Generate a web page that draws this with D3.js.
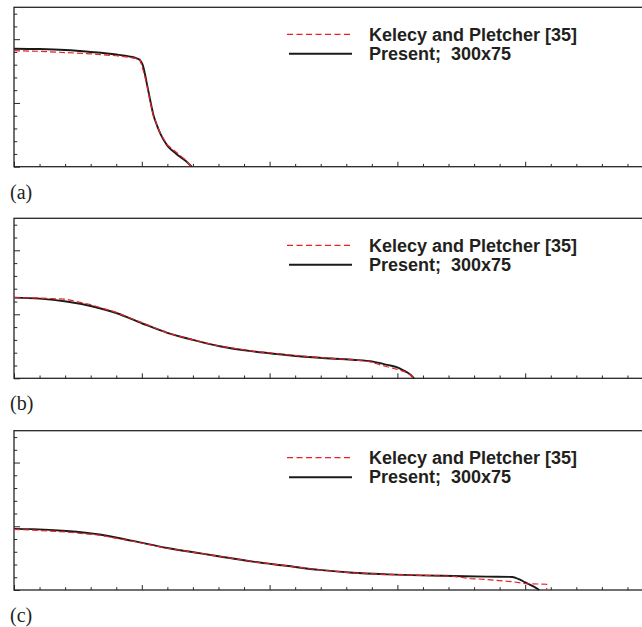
<!DOCTYPE html>
<html>
<head>
<meta charset="utf-8">
<script src="https://cdn.jsdelivr.net/npm/d3@7"></script>
<style>
  html, body { margin: 0; padding: 0; background: #fff; }
  svg { display: block; }
</style>
</head>
<body>
<svg id="chart" width="642" height="627"></svg>
<script>
// ---------------- data ----------------
const panelLabels = ["(a)", "(b)", "(c)"];
const legendLabels = ["Kelecy and Pletcher [35]", "Present;  300x75"];

// Panel (a)
const aRefX = [0, 0.2, 0.4, 0.6, 0.8, 0.96, 0.985, 1.0, 1.02, 1.04, 1.065, 1.09, 1.145, 1.2, 1.28, 1.35, 1.39];
const aRefY = [1.82, 1.81, 1.79, 1.77, 1.74, 1.70, 1.69, 1.58, 1.45, 1.28, 1.03, 0.80, 0.52, 0.34, 0.21, 0.09, 0];
const aPresX = [0, 0.2, 0.4, 0.6, 0.8, 0.9, 0.96, 0.99, 1.01, 1.025, 1.04, 1.065, 1.09, 1.12, 1.145, 1.2, 1.27, 1.35, 1.39];
const aPresY = [1.85, 1.845, 1.83, 1.80, 1.76, 1.73, 1.70, 1.66, 1.58, 1.45, 1.30, 1.05, 0.82, 0.64, 0.52, 0.33, 0.20, 0.08, 0];

// Panel (b)
const bRefX = [0, 0.2, 0.41, 0.6, 0.8, 1.0, 1.2, 1.4, 1.6, 1.87, 2.13, 2.39, 2.65, 2.78, 2.85, 2.92, 3.0, 3.06, 3.1, 3.125];
const bRefY = [1.26, 1.255, 1.235, 1.15, 1.03, 0.87, 0.71, 0.60, 0.505, 0.425, 0.37, 0.325, 0.29, 0.26, 0.22, 0.18, 0.14, 0.10, 0.06, 0];
const bPresX = [0, 0.2, 0.41, 0.6, 0.8, 1.0, 1.2, 1.4, 1.6, 1.87, 2.13, 2.39, 2.65, 2.81, 2.92, 3.0, 3.05, 3.1, 3.13];
const bPresY = [1.26, 1.245, 1.20, 1.13, 1.02, 0.86, 0.71, 0.60, 0.505, 0.42, 0.365, 0.32, 0.29, 0.26, 0.21, 0.17, 0.12, 0.06, 0];

// Panel (c)
const cRefX = [0, 0.15, 0.41, 0.67, 0.93, 1.2, 1.46, 1.6, 1.87, 2.13, 2.39, 2.65, 2.92, 3.18, 3.44, 3.57, 3.7, 3.9, 4.0, 4.168, 4.168];
const cRefY = [0.95, 0.94, 0.91, 0.86, 0.765, 0.655, 0.575, 0.53, 0.445, 0.38, 0.315, 0.27, 0.245, 0.23, 0.215, 0.18, 0.165, 0.13, 0.10, 0.09, 0];
const cPresX = [0, 0.15, 0.41, 0.67, 0.93, 1.2, 1.46, 1.6, 1.87, 2.13, 2.39, 2.65, 2.92, 3.18, 3.44, 3.7, 3.9, 3.95, 4.0, 4.06, 4.11];
const cPresY = [0.96, 0.955, 0.925, 0.87, 0.77, 0.66, 0.575, 0.53, 0.445, 0.38, 0.315, 0.27, 0.245, 0.23, 0.22, 0.21, 0.205, 0.17, 0.12, 0.06, 0];

// axis ticks
const xDomain = [0, 5];
const yDomain = [0, 2.5];
const xMajor = [0, 1, 2, 3, 4, 5];
const xMinor = d3.range(0, 5.001, 0.2).filter(v => Math.abs(v - Math.round(v)) > 1e-6);
const yMajor = [0, 1, 2];
const yMinor = d3.range(0, 2.501, 0.2).filter(v => Math.abs(v - Math.round(v)) > 1e-6);

// ---------------- layout ----------------
const svg = d3.select("#chart");
const left = 14, pxPerUnit = 127.8;
const panels = [
  { top: 7.3, bottom: 166.7, ref: [aRefX, aRefY], pres: [aPresX, aPresY] },
  { top: 218.3, bottom: 378.3, ref: [bRefX, bRefY], pres: [bPresX, bPresY] },
  { top: 430.7, bottom: 590, ref: [cRefX, cRefY], pres: [cPresX, cPresY] }
];

const frameColor = "#262626";
const redColor = "#e8202a";
const blackColor = "#1a1a1a";
const textColor = "#231f20";

panels.forEach((p, i) => {
  const x = d3.scaleLinear().domain(xDomain).range([left, left + pxPerUnit * 5]);
  const y = d3.scaleLinear().domain(yDomain).range([p.bottom, p.top]);
  const g = svg.append("g");

  // frame
  g.append("rect")
    .attr("x", x(xDomain[0])).attr("y", y(yDomain[1]))
    .attr("width", x(xDomain[1]) - x(xDomain[0]))
    .attr("height", y(yDomain[0]) - y(yDomain[1]))
    .attr("fill", "none").attr("stroke", frameColor).attr("stroke-width", 1.3);

  // ticks (inward)
  const addAxis = (axis) => {
    const a = g.append("g").call(axis);
    a.select(".domain").remove();
    a.selectAll("line").attr("stroke", frameColor).attr("stroke-width", 1);
    a.selectAll("text").remove();
    return a;
  };
  addAxis(d3.axisBottom(x).tickValues(xMinor).tickSize(-2.8).tickFormat(""))
    .attr("transform", `translate(0,${p.bottom})`);
  addAxis(d3.axisBottom(x).tickValues(xMajor).tickSize(-5).tickFormat(""))
    .attr("transform", `translate(0,${p.bottom})`);
  addAxis(d3.axisLeft(y).tickValues(yMinor).tickSize(-3.3).tickFormat(""))
    .attr("transform", `translate(${left},0)`);
  addAxis(d3.axisLeft(y).tickValues(yMajor).tickSize(-6).tickFormat(""))
    .attr("transform", `translate(${left},0)`);

  // curves
  const pts = (arr) => arr[0].map((v, k) => [v, arr[1][k]]);
  const lineSmooth = d3.line().x(d => x(d[0])).y(d => y(d[1])).curve(d3.curveMonotoneX);
  const lineLin = d3.line().x(d => x(d[0])).y(d => y(d[1])).curve(d3.curveLinear);

  g.append("path").datum(pts(p.pres))
    .attr("d", lineSmooth)
    .attr("fill", "none").attr("stroke", blackColor).attr("stroke-width", 1.9)
    .attr("stroke-linejoin", "round");
  g.append("path").datum(pts(p.ref))
    .attr("d", lineLin)
    .attr("fill", "none").attr("stroke", redColor).attr("stroke-width", 1.2)
    .attr("stroke-dasharray", "6,3");

  // legend
  const ly = p.top + 27;
  g.append("line").attr("x1", 287).attr("x2", 352).attr("y1", ly).attr("y2", ly)
    .attr("stroke", redColor).attr("stroke-width", 1.2).attr("stroke-dasharray", "6,3.5");
  g.append("line").attr("x1", 289).attr("x2", 352).attr("y1", ly + 19.5).attr("y2", ly + 19.5)
    .attr("stroke", blackColor).attr("stroke-width", 1.9);
  legendLabels.forEach((t, k) => {
    g.append("text").attr("x", 369).attr("y", ly + 6.3 + k * 19)
      .attr("font-family", "'Liberation Sans', Arial, sans-serif")
      .attr("font-weight", "bold").attr("font-size", 18)
      .attr("fill", textColor)
      .attr("xml:space", "preserve")
      .style("white-space", "pre")
      .text(t);
  });

  // panel label
  g.append("text").attr("x", 10).attr("y", p.bottom + 32)
    .attr("font-family", "'Liberation Serif', 'Times New Roman', serif")
    .attr("font-size", 20).attr("fill", textColor)
    .text(panelLabels[i]);
});
</script>
</body>
</html>
